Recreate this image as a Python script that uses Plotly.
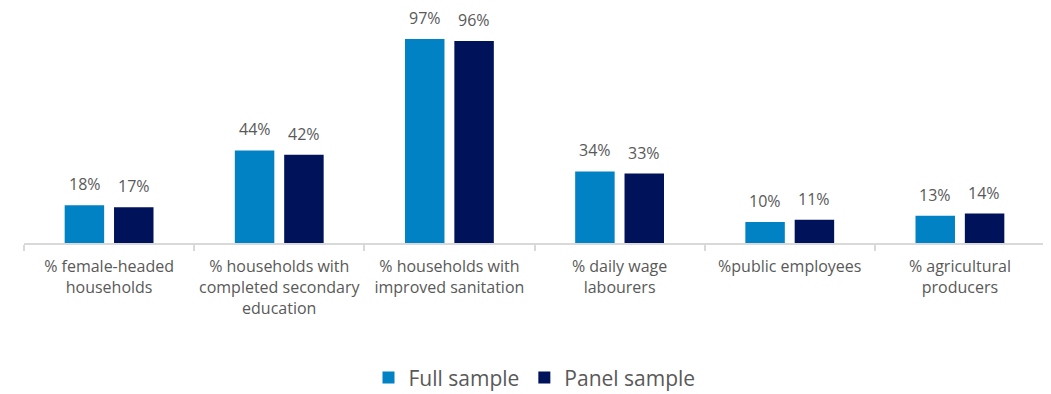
import plotly.graph_objects as go

categories = [
    "% female-headed<br>households",
    "% households with<br>completed secondary<br>education",
    "% households with<br>improved sanitation",
    "% daily wage<br>labourers",
    "%public employees",
    "% agricultural<br>producers",
]
full_sample = [18, 44, 97, 34, 10, 13]
panel_sample = [17, 42, 96, 33, 11, 14]

FULL_COLOR = "#0082C4"
PANEL_COLOR = "#00125A"
TEXT_COLOR = "#595959"
FONT = "Open Sans"

fig = go.Figure()
fig.add_trace(go.Bar(name="Full sample", x=categories, y=full_sample,
                     marker=dict(color=FULL_COLOR, line=dict(width=0))))
fig.add_trace(go.Bar(name="Panel sample", x=categories, y=panel_sample,
                     marker=dict(color=PANEL_COLOR, line=dict(width=0))))

annotations = []
for cat, v in zip(categories, full_sample):
    annotations.append(dict(x=cat, y=v, text=f"{v}%", showarrow=False, xref="x", yref="y",
                            xshift=-24.5, yshift=8, yanchor="bottom",
                            font=dict(family=FONT, size=16, color=TEXT_COLOR)))
for cat, v in zip(categories, panel_sample):
    annotations.append(dict(x=cat, y=v, text=f"{v}%", showarrow=False, xref="x", yref="y",
                            xshift=24.5, yshift=8, yanchor="bottom",
                            font=dict(family=FONT, size=16, color=TEXT_COLOR)))

# the page adds an 8px body margin, so the figure is sized to fit the window
fig.update_layout(
    width=1043, height=386,
    margin=dict(l=16, r=6, t=12, b=151, autoexpand=False),
    paper_bgcolor="white", plot_bgcolor="white",
    barmode="group", bargap=0.42, bargroupgap=0.2,
    font=dict(family=FONT, size=16, color=TEXT_COLOR),
    showlegend=True,
    legend=dict(orientation="h", x=0.5, xanchor="center", y=-0.605, yanchor="middle",
                itemwidth=30, tracegroupgap=0,
                font=dict(family=FONT, size=21, color=TEXT_COLOR), traceorder="normal"),
    annotations=annotations,
)
fig.update_xaxes(showline=True, linecolor="#D9D9D9", linewidth=1.5, automargin=False,
                 ticks="outside", tickson="boundaries", ticklen=6, tickcolor="#D9D9D9",
                 tickwidth=1.5, ticklabelstandoff=8, tickangle=0,
                 tickfont=dict(family=FONT, size=16, color=TEXT_COLOR),
                 showgrid=False, zeroline=False)
fig.update_yaxes(visible=False, range=[0, 106], showgrid=False, zeroline=False, automargin=False)

fig.write_html("out.html")
